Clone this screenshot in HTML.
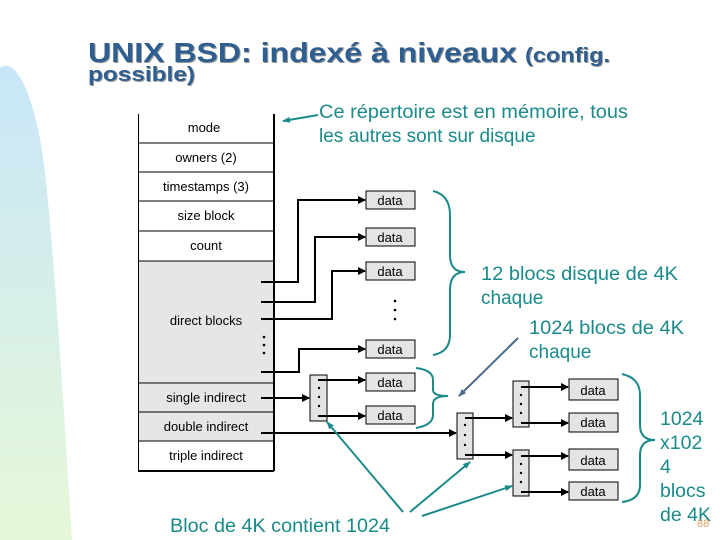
<!DOCTYPE html>
<html><head><meta charset="utf-8"><style>
html,body{margin:0;padding:0;background:#fff;}
svg{display:block;}
</style></head><body>
<svg width="720" height="540" viewBox="0 0 720 540" xmlns="http://www.w3.org/2000/svg" font-family="Liberation Sans, sans-serif">
<defs>
<linearGradient id="bg" x1="0" y1="0" x2="0" y2="1">
<stop offset="0" stop-color="#c8e6f8"/><stop offset="1" stop-color="#e6f8d8"/>
</linearGradient>
<marker id="ah" markerWidth="8" markerHeight="8" refX="7" refY="4" orient="auto" markerUnits="userSpaceOnUse">
<path d="M0,0 L8,4 L0,8 Z" fill="#000"/></marker>
<marker id="at" markerWidth="8" markerHeight="8" refX="7" refY="4" orient="auto" markerUnits="userSpaceOnUse">
<path d="M0,1 L8,4 L0,7 Z" fill="#1a8a8a"/></marker>
<marker id="as" markerWidth="8" markerHeight="8" refX="7" refY="4" orient="auto" markerUnits="userSpaceOnUse">
<path d="M0,1 L8,4 L0,7 Z" fill="#4a6a8a"/></marker>
</defs>
<path d="M0,68 C12,58 30,80 42,150 C52,220 62,380 72,540 L0,540 Z" fill="url(#bg)"/>
<!-- title -->
<g font-weight="bold" fill="#999">
<text x="89" y="63" font-size="28" textLength="429" lengthAdjust="spacingAndGlyphs">UNIX BSD: indexé à niveaux</text>
<text x="526" y="63" font-size="20" textLength="85" lengthAdjust="spacingAndGlyphs">(config.</text>
<text x="89" y="82" font-size="20" textLength="107" lengthAdjust="spacingAndGlyphs">possible)</text>
</g>
<g font-weight="bold" fill="#2f5f90">
<text x="88" y="62" font-size="28" textLength="429" lengthAdjust="spacingAndGlyphs">UNIX BSD: indexé à niveaux</text>
<text x="525" y="62" font-size="20" textLength="85" lengthAdjust="spacingAndGlyphs">(config.</text>
<text x="88" y="81" font-size="20" textLength="107" lengthAdjust="spacingAndGlyphs">possible)</text>
</g>
<!-- inode table -->
<rect x="138" y="261" width="136" height="180" fill="#e6e6e6"/>
<g stroke="#000" stroke-width="1" fill="none">
<line x1="138.5" y1="114" x2="138.5" y2="471"/>
<line x1="274" y1="114" x2="274" y2="471" stroke-width="2"/>
<line x1="138" y1="143" x2="274" y2="143"/>
<line x1="138" y1="172" x2="274" y2="172"/>
<line x1="138" y1="201" x2="274" y2="201"/>
<line x1="138" y1="231" x2="274" y2="231"/>
<line x1="138" y1="261" x2="274" y2="261"/>
<line x1="138" y1="383" x2="274" y2="383"/>
<line x1="138" y1="412" x2="274" y2="412"/>
<line x1="138" y1="441" x2="274" y2="441"/>
<line x1="138" y1="471" x2="274" y2="471" stroke-width="2"/>
</g>
<g font-size="13" text-anchor="middle" fill="#000">
<text x="204" y="132">mode</text>
<text x="206" y="162">owners (2)</text>
<text x="206" y="191">timestamps (3)</text>
<text x="206" y="220">size block</text>
<text x="206" y="250">count</text>
<text x="206" y="325">direct blocks</text>
<text x="206" y="402">single indirect</text>
<text x="206" y="431">double indirect</text>
<text x="206" y="460">triple indirect</text>
</g>
<!-- data boxes -->
<g fill="#e4e4e4" stroke="#000" stroke-width="1">
<rect x="366" y="191" width="49" height="18"/>
<rect x="366" y="228" width="49" height="18"/>
<rect x="366" y="262" width="49" height="18"/>
<rect x="366" y="340" width="49" height="18"/>
<rect x="366" y="373" width="49" height="18"/>
<rect x="366" y="406" width="49" height="18"/>
<rect x="569" y="379" width="49" height="21"/>
<rect x="569" y="413" width="49" height="19"/>
<rect x="569" y="449" width="49" height="21"/>
<rect x="569" y="482" width="49" height="18"/>
<rect x="310" y="375" width="17" height="46"/>
<rect x="457" y="413" width="16" height="46"/>
<rect x="513" y="381" width="16" height="46"/>
<rect x="513" y="450" width="16" height="46"/>
</g>
<g font-size="13" text-anchor="middle" fill="#000">
<text x="390" y="205">data</text><text x="390" y="242">data</text><text x="390" y="276">data</text>
<text x="390" y="354">data</text><text x="390" y="387">data</text><text x="390" y="420">data</text>
<text x="593" y="395">data</text><text x="593" y="427">data</text><text x="593" y="465">data</text><text x="593" y="496">data</text>
</g>
<!-- dots -->
<g fill="#000">
<circle cx="264" cy="337" r="1.3"/><circle cx="264" cy="345" r="1.3"/><circle cx="264" cy="353" r="1.3"/>
<circle cx="395" cy="301" r="1.3"/><circle cx="395" cy="310" r="1.3"/><circle cx="395" cy="319" r="1.3"/>
<circle cx="319" cy="388" r="1.2"/><circle cx="319" cy="397" r="1.2"/><circle cx="319" cy="406" r="1.2"/>
<circle cx="465" cy="425" r="1.2"/><circle cx="465" cy="435" r="1.2"/><circle cx="465" cy="445" r="1.2"/>
<circle cx="521" cy="395" r="1.2"/><circle cx="521" cy="404" r="1.2"/><circle cx="521" cy="413" r="1.2"/>
<circle cx="521" cy="464" r="1.2"/><circle cx="521" cy="473" r="1.2"/><circle cx="521" cy="482" r="1.2"/>
</g>
<!-- connectors -->
<g stroke="#000" stroke-width="2" fill="none" marker-end="url(#ah)">
<polyline points="261,282 298,282 298,200 365,200"/>
<polyline points="261,302 315,302 315,237 365,237"/>
<polyline points="261,319 332,319 332,271 365,271"/>
<polyline points="261,372 299,372 299,349 365,349"/>
<line x1="261" y1="398" x2="309" y2="398"/>
<line x1="318" y1="380" x2="365" y2="380"/>
<line x1="318" y1="416" x2="365" y2="416"/>
<line x1="261" y1="433" x2="456" y2="433"/>
<line x1="465" y1="418" x2="512" y2="418"/>
<line x1="465" y1="455" x2="512" y2="455"/>
<line x1="521" y1="387" x2="568" y2="387"/>
<line x1="521" y1="423" x2="568" y2="423"/>
<line x1="521" y1="456" x2="568" y2="456"/>
<line x1="521" y1="492" x2="568" y2="492"/>
</g>
<!-- annotations -->
<g fill="#1a8a8a" font-size="19">
<text x="319" y="118" textLength="309" lengthAdjust="spacingAndGlyphs">Ce répertoire est en mémoire, tous</text>
<text x="319" y="142">les autres sont sur disque</text>
<text x="481" y="280" textLength="197" lengthAdjust="spacingAndGlyphs">12 blocs disque de 4K</text>
<text x="481" y="304">chaque</text>
<text x="529" y="334" textLength="155" lengthAdjust="spacingAndGlyphs">1024 blocs de 4K</text>
<text x="529" y="358">chaque</text>
<text x="660" y="425" font-size="19.5">1024</text>
<text x="660" y="449" font-size="19.5">x102</text>
<text x="660" y="473" font-size="19.5">4</text>
<text x="660" y="497" font-size="19.5">blocs</text>
<text x="660" y="521" font-size="19.5">de 4K</text>
<text x="170" y="532" font-size="19.5" textLength="220" lengthAdjust="spacingAndGlyphs">Bloc de 4K contient 1024</text>
</g>
<text x="697" y="527" font-size="11" fill="#e0a060">88</text>
<g stroke="#1a8a8a" stroke-width="2" fill="none">
<line x1="318" y1="115" x2="283" y2="121" marker-end="url(#at)"/>
<path d="M433,191 Q450,195 450,215 L450,255 Q450,272 465,272 Q450,272 450,290 L450,335 Q450,352 433,355"/>
<path d="M416,368 Q433,370 433,380 L433,390 Q433,396 448,396 Q433,396 433,404 L433,415 Q433,425 416,428"/>
<path d="M622,374 Q640,378 640,395 L640,425 Q640,440 655,440 Q640,440 640,455 L640,485 Q640,500 622,502"/>
<line x1="403" y1="512" x2="327" y2="422" marker-end="url(#at)"/>
<line x1="410" y1="512" x2="470" y2="462" marker-end="url(#at)"/>
<line x1="422" y1="516" x2="512" y2="486" marker-end="url(#at)"/>
</g>
<line x1="518" y1="338" x2="459" y2="396" stroke="#4a6a8a" stroke-width="2" marker-end="url(#as)"/>
</svg>
</body></html>
